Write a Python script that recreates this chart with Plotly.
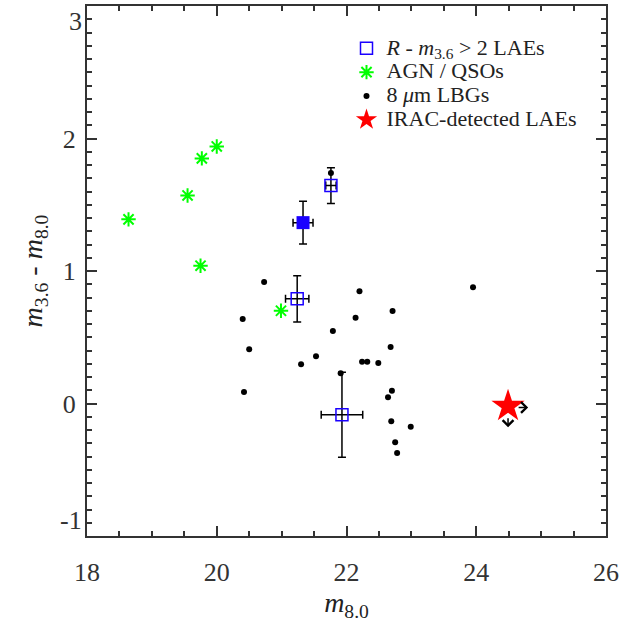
import plotly.graph_objects as go

# ---------------- data ----------------
# R - m3.6 > 2 LAEs (open squares) with errors
lae_x = [21.76, 21.24, 21.93]
lae_y = [1.645, 0.79, -0.085]
lae_xerr = [0.08, 0.18, 0.32]
lae_yerr = [0.135, 0.175, 0.32]
# filled square LAE
laef_x = [21.33]
laef_y = [1.365]
laef_xerr = [0.154]
laef_yerr = [0.162]
# AGN / QSOs
agn_x = [20.00, 19.77, 19.55, 18.64, 19.75, 20.99]
agn_y = [1.94, 1.85, 1.57, 1.39, 1.04, 0.70]
# 8 micron LBGs
lbg_x = [21.76, 20.73, 20.40, 20.50, 20.42, 21.30, 21.53, 21.79, 22.20, 22.14,
         21.91, 22.24, 22.32, 22.49, 22.71, 22.68, 22.70, 22.64, 22.69, 22.99,
         22.75, 22.78, 23.95]
lbg_y = [1.74, 0.917, 0.638, 0.409, 0.087, 0.296, 0.356, 0.547, 0.847, 0.648,
         0.228, 0.316, 0.316, 0.306, 0.698, 0.426, 0.097, 0.047, -0.134, -0.175,
         -0.293, -0.374, 0.877]
# IRAC-detected LAEs (limits)
irac_x = [24.49]
irac_y = [-0.02]
irac_arrow_y = [-0.03]
irac_xlim = [24.80]   # lower limit arrow tip in m8.0
irac_ylim = [-0.18]   # upper limit arrow tip in colour

xticks = [18, 20, 22, 24, 26]
yticks = [-1, 0, 1, 2, 3]
ytick_text = ["-1", "0", "1", "2", "3"]

# ---------------- figure ----------------
FONT = "Liberation Serif"
AX = "#333333"
TICKC = "#333333"
LEG = '<span style="font-size:22px">{}</span>'

fig = go.Figure()

fig.add_trace(go.Scatter(
    x=lbg_x, y=lbg_y, mode="markers", name=LEG.format("8 <i>μ</i>m LBGs"), legendrank=3,
    marker=dict(symbol="circle", size=6, color="black"),
))
fig.add_trace(go.Scatter(
    x=agn_x, y=agn_y, mode="markers", name=LEG.format("AGN / QSOs"), legendrank=2,
    marker=dict(symbol="asterisk-open", size=12, color="#00ff00",
                line=dict(color="#00ff00", width=2)),
))
fig.add_trace(go.Scatter(
    x=laef_x, y=laef_y, mode="markers", showlegend=False,
    marker=dict(symbol="square", size=13, color="#1a00ff"),
    error_x=dict(type="data", array=laef_xerr, color="black", thickness=1.5, width=4),
    error_y=dict(type="data", array=laef_yerr, color="black", thickness=1.5, width=4),
))
fig.add_trace(go.Scatter(
    x=lae_x, y=lae_y, mode="markers", legendrank=1,
    name=LEG.format("<i>R</i> - <i>m</i><sub>3.6</sub> > 2 LAEs"),
    marker=dict(symbol="square-open", size=12, color="#1a00ff",
                line=dict(color="#1a00ff", width=1.5)),
    error_x=dict(type="data", array=lae_xerr, color="black", thickness=1.5, width=4),
    error_y=dict(type="data", array=lae_yerr, color="black", thickness=1.5, width=4),
))
fig.add_trace(go.Scatter(
    x=irac_x, y=irac_y, mode="markers", name=LEG.format("IRAC-detected LAEs"), legendrank=4,
    marker=dict(symbol="star", size=25, color="red", line=dict(width=0)),
))

# limit arrows
for x0, y0, xl, yl in zip(irac_x, irac_arrow_y, irac_xlim, irac_ylim):
    fig.add_annotation(x=xl, y=y0, ax=x0 + 0.14, ay=y0, xref="x", yref="y",
                       axref="x", ayref="y", text="", showarrow=True,
                       arrowhead=4, arrowsize=1.4, arrowwidth=1.5, arrowcolor="black")
    fig.add_annotation(x=x0, y=yl, ax=x0, ay=y0 - 0.07, xref="x", yref="y",
                       axref="x", ayref="y", text="", showarrow=True,
                       arrowhead=4, arrowsize=1.4, arrowwidth=1.5, arrowcolor="black")

axis_common = dict(
    showline=True, linecolor=AX, linewidth=2, mirror="ticks",
    ticks="inside", tickcolor=AX, tickwidth=1.5, ticklen=10,
    showgrid=False, zeroline=False, automargin=False,
    tickfont=dict(family=FONT, size=26, color=TICKC),
)

fig.update_xaxes(
    range=[18, 26], tickvals=xticks, **axis_common,
    minor=dict(dtick=0.5, ticks="inside", ticklen=5, tickcolor=AX, tickwidth=1.5),
    ticklabelstandoff=12,
    title=dict(text="<i>m</i><sub>8.0</sub>", font=dict(family=FONT, size=28, color="#222222"),
               standoff=0),
)

# end labels of the y axis are kept inside the frame (as in the reference)
inner_text = [t if v not in (yticks[0], yticks[-1]) else "" for v, t in zip(yticks, ytick_text)]
fig.update_yaxes(
    range=[yticks[0], yticks[-1]], tickvals=yticks, ticktext=inner_text, **axis_common,
    minor=dict(dtick=0.1, ticks="inside", ticklen=5, tickcolor=AX, tickwidth=1.5),
    ticklabelstandoff=4,
    title=dict(text="<i>m</i><sub>3.6</sub> - <i>m</i><sub>8.0</sub>",
               font=dict(family=FONT, size=28, color="#222222"), standoff=12),
)
for v, t, anchor in [(yticks[0], ytick_text[0], "bottom"), (yticks[-1], ytick_text[-1], "top")]:
    fig.add_annotation(x=0, xref="paper", y=v, yref="y", text=t, showarrow=False,
                       xanchor="right", yanchor=anchor, xshift=-4, borderpad=0,
                       font=dict(family=FONT, size=26, color=TICKC))

fig.update_layout(
    width=635, height=629,
    margin=dict(l=87, r=29, t=6, b=93),
    plot_bgcolor="white", paper_bgcolor="white",
    legend=dict(
        x=0.50, y=0.952, xanchor="left", yanchor="top",
        font=dict(family=FONT, size=16, color="#222222"),
        bgcolor="rgba(0,0,0,0)", itemwidth=30,
    ),
)

fig.write_html("out.html")
